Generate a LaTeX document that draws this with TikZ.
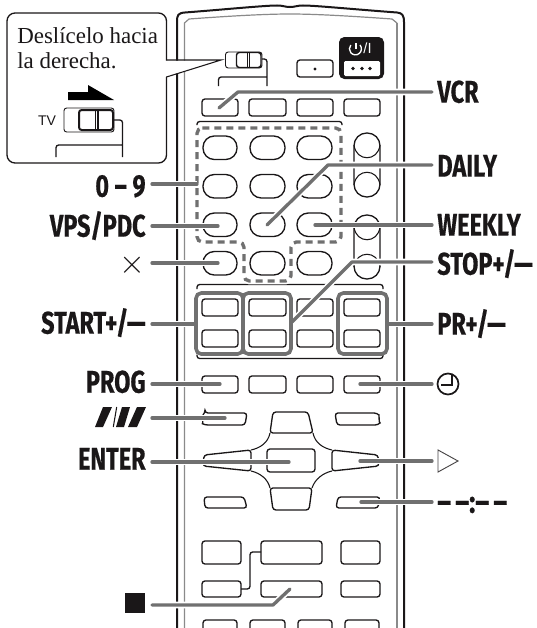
\documentclass[tikz,border=0pt]{standalone}
\usepackage{fontspec}
\usepackage{graphicx}
\setmainfont{Liberation Serif}
\newfontfamily\lblfont{Fira Sans}[BoldFeatures={FakeBold=0.5}]
\newfontfamily\tvfont{Liberation Sans}
\usetikzlibrary{positioning,calc}
\definecolor{LeadGray}{HTML}{707070}
\definecolor{EdgeGray}{HTML}{8A8A8A}
\definecolor{KeyBlack}{HTML}{1A1718}
\newcommand{\cond}[1]{\scalebox{0.75}[1]{#1}}
\tikzset{
  keybtn/.style={draw=KeyBlack, line width=1pt, rounded corners=2.2pt},
  oval/.style={draw=KeyBlack, line width=1pt, rounded corners=8.5pt},
  leader/.style={draw=LeadGray, line width=2.5pt, line cap=round, line join=round,
    preaction={draw=white, line width=5pt}},
  groupbox/.style={draw=LeadGray, line width=2.7pt, rounded corners=4pt},
  thinline/.style={draw=KeyBlack, line width=1pt, rounded corners=2pt},
  lblleft/.style={anchor=east, inner xsep=4.6pt, inner ysep=0pt, text height=16pt, text depth=0pt,
    text=KeyBlack, font=\lblfont\bfseries\fontsize{23.5}{24}\selectfont},
  lblright/.style={lblleft, anchor=west, inner xsep=3.8pt},
}
\begin{document}
\begin{tikzpicture}[x=0.75pt,y=-0.75pt]
  \useasboundingbox (0,0) rectangle (536,628);
  % remote body
  \draw[KeyBlack, line width=1.5pt] (177,628) -- (177,22) .. controls (177,15) and (178,13) .. (185,12.5)
    .. controls (230,9) and (265,5.5) .. (277,5.5) .. controls (283,5.5) and (285,7) .. (290,7)
    .. controls (295,7) and (297,5.5) .. (303,5.5) .. controls (315,5.5) and (350,9) .. (397,12.5)
    .. controls (402,13) and (404,15) .. (404,22) -- (404,628);
  \draw[EdgeGray, line width=0.9pt] (184.5,628) -- (184.5,23) -- (189,19) .. controls (230,16) and (265,14) .. (290,14)
    .. controls (315,14) and (350,16) .. (392,19) -- (397,23);
  \draw[EdgeGray, line width=2pt] (397,23) -- (397,628);
  % callout
  \draw[KeyBlack, line width=1pt, fill=white, rounded corners=6pt] (7,13) rectangle (166.5,163);
  \fill[white] (165,60.5) -- (221,60.5) -- (165,77) -- cycle;
  \coordinate (tipOne) at (166.5,60);
  \coordinate (tipTwo) at (166.5,77);
  \coordinate (tipEnd) at (221,60);
  \draw[KeyBlack, line width=0.8pt] (tipOne) -- (tipEnd) -- (tipTwo);
  \node[anchor=base west, inner sep=0pt, font=\fontsize{17.2}{20}\selectfont, text=KeyBlack] (textOne) at (17,43) {Desl\'icelo hacia};
  \node[anchor=base west, inner sep=0pt, font=\fontsize{17.2}{20}\selectfont, text=KeyBlack] (textTwo) at (17,68) {la derecha.};
  \fill[black] (68,92) -- (88,92) -- (88,85) -- (114,100) -- (68,100) -- cycle;
  \node[font=\tvfont\fontsize{10.5}{12}\selectfont, text=KeyBlack, inner sep=0pt] (tvText) at (47,121) {TV};
  % slide switch in the callout
  \draw[KeyBlack, line width=0.7pt, rounded corners=2pt] (64,108) rectangle (114,132);
  \draw[KeyBlack, line width=1.5pt, rounded corners=2pt] (79,110) rectangle (113,130);
  \draw[KeyBlack, line width=0.8pt] (95.5,110) -- (95.5,130) (98,110) -- (98,130);
  \draw[thinline] (114,120) -- (122.5,120) -- (122.5,157) (122.5,145) -- (56,145) -- (56,157);
  % slide switch on the remote
  \draw[KeyBlack, line width=0.7pt, rounded corners=2pt] (225.5,52) rectangle (262,68);
  \draw[KeyBlack, line width=1.1pt, rounded corners=2pt] (236.5,52.5) rectangle (261,67.5);
  \draw[KeyBlack, line width=0.6pt] (247.5,52.5) -- (247.5,67.5) (249.5,52.5) -- (249.5,67.5);
  \draw[thinline] (262,59) -- (267,59) -- (267,86) (267,77) -- (218.5,77) -- (218.5,86);
  % standby block
  \draw[keybtn] (297,60) rectangle (333,77);
  \fill[KeyBlack] (315,69) circle (1.6);
  \fill[KeyBlack, rounded corners=4pt] (339,37) rectangle (384,79);
  \fill[white, rounded corners=1pt] (344,61) rectangle (380,76);
  \foreach \xa in {353,362,370} \fill[KeyBlack] (\xa,68.5) circle (1.8);
  \draw[white, line width=1pt] (356,43) -- (356,49);
  \draw[white, line width=1pt] (360,45) arc[start angle=-40, end angle=220, radius=6];
  \node[font=\tvfont\fontsize{11}{12}\selectfont, text=white, inner sep=0pt] (powerText) at (367.5,48.5) {/I};
  % key rows
  \foreach \ya in {99,299,330,376}
    \foreach \xa/\xb in {202/238,249/286,297/333,344/380}
      \draw[keybtn] (\xa,\ya) rectangle (\xb,\ya+17);
  \foreach \ya in {136,174.5,213,251.5}
    \foreach \xa/\xb in {203/237,250/285,297/332}
      \draw[oval] (\xa,\ya) rectangle (\xb,\ya+23.5);
  % side rockers
  \foreach \ya in {133,215} {
    \draw[oval, rounded corners=9.5pt] (354,\ya) rectangle (380,\ya+64);
    \draw[KeyBlack, line width=0.8pt] (354,\ya+12) .. controls (356,\ya+29) and (378,\ya+29) .. (380,\ya+12);
    \draw[KeyBlack, line width=0.8pt] (354,\ya+52) .. controls (356,\ya+35) and (378,\ya+35) .. (380,\ya+52);
  }
  % brackets
  \draw[thinline] (197,125) -- (197,121.5) -- (342,121.5) -- (342,125);
  \draw[thinline] (197,289) -- (197,284.5) -- (383,284.5) -- (383,289);
  \draw[thinline] (197,354.5) -- (197,358.5) -- (383,358.5) -- (383,354.5);
  % dashed digit block
  \draw[draw=LeadGray, line width=2.5pt, dash pattern=on 5.2pt off 3.8pt, rounded corners=4pt,
    preaction={draw=white, line width=5pt, solid}]
    (197,128) -- (341,128) -- (341,242) -- (291,242) -- (291,281) -- (244,281) -- (244,242) -- (197,242) -- cycle;
  % wedge keys
  \draw[keybtn] (205,413) -- (247,413) -- (245,425) -- (205,425) .. controls (203,424) and (203,415) .. cycle;
  \draw[keybtn] (335,413) -- (377,413) .. controls (379,415) and (379,424) .. (378,425) -- (337,425) -- cycle;
  \draw[keybtn] (204,497) -- (244,497) -- (247,508) -- (205,508) -- cycle;
  \draw[keybtn] (338,497) -- (380,497) -- (378,508) -- (336,508) -- cycle;
  % cross pad
  \draw[keybtn] (273,412) -- (308,412) -- (313,433) -- (270,433) -- cycle;
  \draw[keybtn] (270,488) -- (312,488) -- (309,510) -- (273,510) -- cycle;
  \draw[keybtn] (267,449) rectangle (315,472);
  \draw[keybtn] (251,450) -- (204,455) -- (203,466) -- (251,471) -- cycle;
  \draw[keybtn] (332,450) -- (378,455) -- (379,466) -- (332,471) -- cycle;
  \draw[KeyBlack, line width=0.8pt] (270,433) .. controls (268,443) and (260,448) .. (251,450);
  \draw[KeyBlack, line width=0.8pt] (313,433) .. controls (315,443) and (323,448) .. (332,450);
  \draw[KeyBlack, line width=0.8pt] (251,471) .. controls (260,473) and (268,479) .. (270,488);
  \draw[KeyBlack, line width=0.8pt] (332,471) .. controls (323,473) and (315,479) .. (312,488);
  % lower keys
  \foreach \ya/\yb in {541/564,581/597}
    \foreach \xa/\xb in {202/241,261/322,341/380}
      \draw[keybtn] (\xa,\ya) rectangle (\xb,\yb);
  \draw[thinline] (241,589) -- (250,589) -- (250,552) -- (261,552);
  \foreach \xa/\xb in {203/237,250/285,298/332,345/379}
    \draw[keybtn] (\xa,640) -- (\xa,620) -- (\xb,620) -- (\xb,640);
  % labels
  \node[lblleft] (lblDigits) at (152,186) {\cond{0 – 9}};
  \node[lblleft] (lblVps) at (152,226) {\cond{VPS/PDC}};
  \node[lblleft, font=\tvfont\fontsize{38}{38}\selectfont] (lblCancel) at (152,263) {$\times$};
  \node[lblleft] (lblStart) at (152,323) {\cond{START+/—}};
  \node[lblleft] (lblProg) at (152,382) {\cond{PROG}};
  \coordinate (lblSpeed) at (152,418);
  \node[lblleft] (lblEnter) at (152,459) {\cond{ENTER}};
  \coordinate (lblStopKey) at (152,605);
  \node[lblright] (lblVcr) at (432,92) {\cond{VCR}};
  \node[lblright] (lblDaily) at (432,166) {\cond{DAILY}};
  \node[lblright] (lblWeekly) at (432,225) {\cond{WEEKLY}};
  \node[lblright] (lblStop) at (432,264) {\cond{STOP+/—}};
  \node[lblright] (lblPr) at (432,324) {\cond{PR+/—}};
  \coordinate (lblClock) at (432,384);
  \coordinate (lblPlay) at (432,461);
  \node[lblright] (lblTime) at (432,502) {\scalebox{0.84}[1]{–\,–:–\,–}};
  % connectors
  \draw[leader] (lblDigits.east |- 0,184) -- (197,184);
  \draw[leader] (lblVps.east) -- (218,226);
  \draw[leader] (lblCancel.east) -- (218,263);
  \draw[leader] (lblStart.east |- 0,324) -- (196,324);
  \draw[leader] (lblProg.east |- 0,384) -- (220,384);
  \draw[leader] (lblSpeed) -- (225,418);
  \draw[leader] (lblEnter.east |- 0,462) -- (289,462);
  \draw[leader] (lblStopKey) -- (273,605) -- (290,589);
  \draw[leader] (219,108) -- (238,92) -- (lblVcr.west);
  \draw[leader] (267,225) -- (328,165) -- (lblDaily.west |- 0,165);
  \draw[leader] (315,225) -- (lblWeekly.west);
  \draw[leader] (292,322) -- (352,262) -- (lblStop.west |- 0,262);
  \draw[leader] (387,324) -- (lblPr.west);
  \draw[leader] (360,384) -- (lblClock);
  \draw[leader] (360,461) -- (lblPlay);
  \draw[leader] (361,502) -- (lblTime.west);
  % grouped keys
  \draw[groupbox] (196,293) rectangle (243,354);
  \draw[groupbox] (243,293) rectangle (291,354);
  \draw[groupbox] (338,293) rectangle (387,354);
  % symbols
  \fill[KeyBlack] (103,407) -- (112,407) -- (103,427) -- (95,427) -- cycle;
  \draw[KeyBlack, line width=0.8pt] (116.7,407) -- (113.3,427);
  \fill[KeyBlack] (122,407) -- (130,407) -- (124,427) -- (116,427) -- cycle;
  \fill[KeyBlack] (137,407) -- (146,407) -- (137,427) -- (128,427) -- cycle;
  \fill[KeyBlack] (125,593) rectangle (145,613);
  \draw[KeyBlack, line width=1.3pt] (448,384) circle (10.5);
  \draw[KeyBlack, line width=1.3pt] (452,375) -- (452,385) -- (441,385);
  \draw[KeyBlack!80, line width=0.7pt] (438,450) -- (458,461) -- (438,472) -- cycle;
\end{tikzpicture}
\end{document}
